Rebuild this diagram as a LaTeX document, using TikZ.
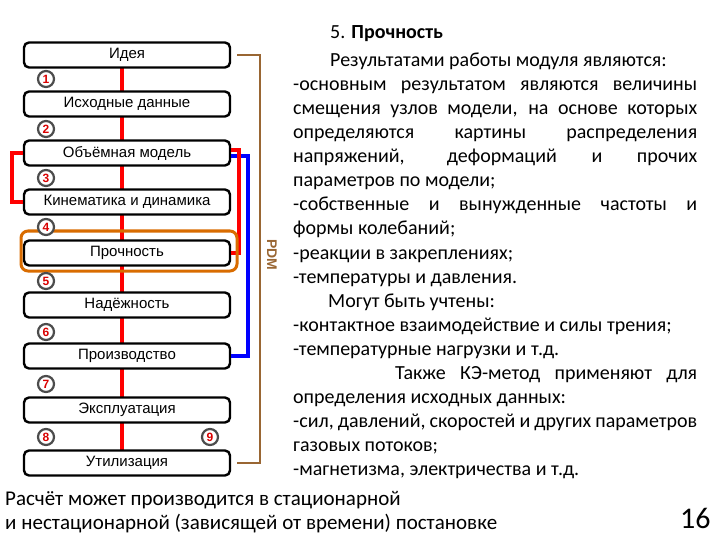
\documentclass[tikz,border=0pt]{standalone}
\usepackage{fontspec}
\setmainfont{Carlito}
\newfontfamily\boxfont{Liberation Sans}
\begin{document}
\begin{tikzpicture}[x=1pt,y=-1pt,
  stage/.style={draw=black,line width=2.4pt,rounded corners=5pt,fill=white,minimum width=206pt,minimum height=25pt,inner sep=0pt,font=\boxfont\fontsize{15}{16}\selectfont},
  num/.style={circle,draw=black!70,line width=2.2pt,fill=white,minimum size=16pt,inner sep=0pt,text=red!85!black,font=\boxfont\bfseries\fontsize{12}{13}\selectfont},
  txt/.style={anchor=base west,inner sep=0pt,font=\fontsize{20}{22}\selectfont},
  link/.style={line width=4.5pt}]
\useasboundingbox (0,0) rectangle (720,540);
\coordinate (top) at (122,68);
\coordinate (bot) at (122,452);
\draw[red,link] (top) -- (bot);
\node[stage] (s1) at (127,55) {Идея};
\node[stage] (s2) at (127,104) {Исходные данные};
\node[stage] (s3) at (127,153) {Объёмная модель};
\node[stage] (s4) at (127,202) {Кинематика и динамика};
\node[stage] (s5) at (127,253) {Прочность};
\node[stage] (s6) at (127,305) {Надёжность};
\node[stage] (s7) at (127,356) {Производство};
\node[stage] (s8) at (127,410) {Эксплуатация};
\node[stage] (s9) at (127,463) {Утилизация};
\draw[red,link] (s3.west) -- ++(-11,0) |- (s4.west);
\draw[blue,link] ([yshift=-3]s3.east) -- ++(17,0) |- (s7.east);
\draw[red,link] ([yshift=3]s3.east) -- ++(8,0) |- (s5.east);
\draw[brown!80!black,line width=2pt] ([xshift=6]s1.east) -- ++(23,0) |- ([xshift=6]s9.east);
\node[rotate=-90,text=brown!80!black,font=\boxfont\bfseries\fontsize{14}{15}\selectfont] (pdm) at (272,255) {PDM};
\draw[orange!85!black,line width=3pt,rounded corners=7pt] (21,231) rectangle (237,271);
\node[num] (n1) at (46,79) {1};
\node[num] (n2) at (46,129) {2};
\node[num] (n3) at (46,178) {3};
\node[num] (n4) at (46,227) {4};
\node[num] (n5) at (46,281) {5};
\node[num] (n6) at (46,332) {6};
\node[num] (n7) at (46,384) {7};
\node[num] (n8) at (46,437) {8};
\node[num] (n9) at (210,437) {9};
\node[txt] (t0) at (330,39) {5. \textbf{Прочность}};
\node[txt] (t1) at (330,67) {Результатами работы модуля являются:};
\node[txt] (t2) at (293,91) {\makebox[404pt][s]{-основным результатом являются величины}};
\node[txt] (t3) at (293,115) {\makebox[404pt][s]{смещения узлов модели, на основе которых}};
\node[txt] (t4) at (293,139) {\makebox[404pt][s]{определяются картины распределения}};
\node[txt] (t5) at (293,163) {\makebox[404pt][s]{напряжений, деформаций и прочих}};
\node[txt] (t6) at (293,187) {параметров по модели;};
\node[txt] (t7) at (293,211) {\makebox[404pt][s]{-собственные и вынужденные частоты и}};
\node[txt] (t8) at (293,235) {формы колебаний;};
\node[txt] (t9) at (293,259) {-реакции в закреплениях;};
\node[txt] (t10) at (293,283) {-температуры и давления.};
\node[txt] (t11) at (328,307) {Могут быть учтены:};
\node[txt] (t12) at (293,331) {-контактное взаимодействие и силы трения;};
\node[txt] (t13) at (293,355) {-температурные нагрузки и т.д.};
\node[txt] (t14) at (395,379) {\makebox[302pt][s]{Также КЭ-метод применяют для}};
\node[txt] (t15) at (293,403) {определения исходных данных:};
\node[txt] (t16) at (293,427) {\makebox[404pt][s]{-сил, давлений, скоростей и других параметров}};
\node[txt] (t17) at (293,451) {газовых потоков;};
\node[txt] (t18) at (293,475) {-магнетизма, электричества и т.д.};
\node[txt,font=\fontsize{21}{22}\selectfont] (b1) at (5,505) {Расчёт может производится в стационарной};
\node[txt,font=\fontsize{21}{22}\selectfont] (b2) at (5,529) {и нестационарной (зависящей от времени) постановке};
\node[txt,font=\fontsize{30}{32}\selectfont] (pg) at (680,528) {16};
\end{tikzpicture}
\end{document}
